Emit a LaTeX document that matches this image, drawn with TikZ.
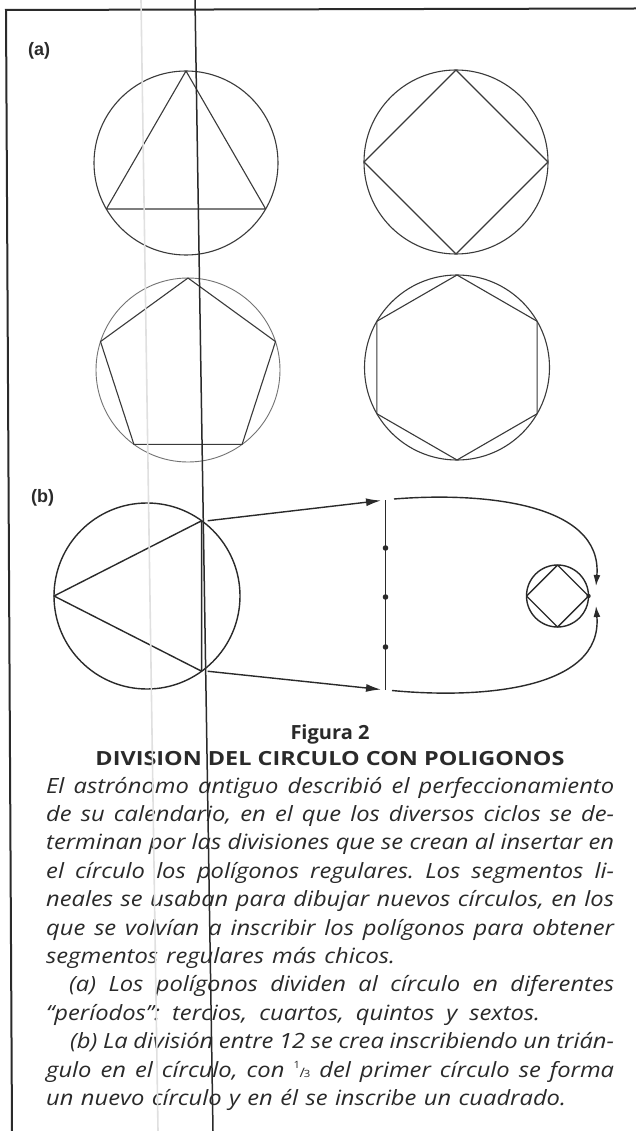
\documentclass[tikz,border=0pt]{standalone}
\usepackage{fontspec}
\usepackage{graphicx}
\usetikzlibrary{arrows.meta}
\newfontfamily\capfont[FakeStretch=1.13]{Open Sans}
\newfontfamily\headfont{Open Sans}
\newfontfamily\labfont{Liberation Sans}
\definecolor{ink}{HTML}{2A2A2A}
\definecolor{pen}{HTML}{3A3A3A}
\newcommand\jline[2]{\makebox[#1][s]{#2}}
\newcommand\third{\raisebox{0.42em}{\fontsize{10}{10}\selectfont\upshape 1}\kern-0.5pt{\fontsize{13}{13}\selectfont\upshape /}\kern-1pt{\fontsize{10}{10}\selectfont\upshape 3}}
\frenchspacing
\begin{document}
\begin{tikzpicture}[x=1pt,y=-1pt,
  ring/.style={circle, draw=pen, line width=1.1pt, minimum size=#1, inner sep=0pt, outer sep=0pt},
  geo/.style={draw=pen, line width=1.1pt, line join=round},
  bold/.style={draw=ink, line width=1.4pt, line join=round},
  arrA/.style={draw=ink, line width=1.4pt, -{Latex[length=15pt,width=8pt]}},
  arrB/.style={draw=ink, line width=1.4pt, -{Latex[length=11pt,width=7pt]}},
  txt/.style={inner sep=0pt, text=ink, font=\capfont\itshape\fontsize{21}{25}\selectfont, anchor=base west},
  head/.style={inner sep=0pt, text=ink, font=\headfont\bfseries\fontsize{19.5}{24}\selectfont, anchor=base},
  lab/.style={inner sep=0pt, text=ink, font=\labfont\bfseries\fontsize{18}{20}\selectfont, anchor=base west},
  fold/.style={draw=ink, line width=1.5pt},
  faint/.style={draw=black!12, line width=1.6pt},
  frame/.style={draw=ink, line width=2pt}]
\useasboundingbox (0,0) rectangle (636,1131);
\fill[white] (0,0) rectangle (636,1131);

% ---------- (a) ----------
\node[lab] (la) at (28,56) {(a)};
\node[ring=184pt] (A1) at (186,163) {};
\draw[geo] (A1.90) -- (A1.210) -- (A1.330) -- cycle;
\node[ring=184pt] (A2) at (456,162) {};
\draw[geo] (A2.90) -- (A2.180) -- (A2.270) -- (A2.0) -- cycle;
\node[ring=184pt, draw=black!55, line width=0.9pt] (A3) at (188,370) {};
\draw[geo] (A3.90) -- (A3.162) -- (A3.234) -- (A3.306) -- (A3.18) -- cycle;
\node[ring=185pt] (A4) at (457,367.5) {};
\draw[geo] (A4.90) -- (A4.150) -- (A4.210) -- (A4.270) -- (A4.330) -- (A4.30) -- cycle;

% ---------- (b) ----------
\node[lab] (lb) at (31,502) {(b)};
\node[ring=186pt, draw=ink, line width=1.4pt] (B1) at (147,596) {};
\draw[bold] (B1.180) -- (B1.54.5) -- (B1.-54.5) -- cycle;
\coordinate (vt) at (385.5,500);
\coordinate (vb) at (385.5,690);
\draw[bold] (vt) -- (vb);
\draw[arrA, shorten >=4.5pt] ([xshift=6pt]B1.54.5) -- (vt);
\draw[arrA, shorten >=4.5pt] ([xshift=6pt]B1.-54.5) -- (vb);
\foreach \yy/\nm in {548/d1,597/d2,647/d3} {
  \fill[ink] (385.5,\yy) coordinate (\nm) circle (2.8pt);
}
\node[ring=62pt, draw=ink, line width=1.4pt] (S) at (557.5,596) {};
\draw[bold] (S.90) -- (S.180) -- (S.270) -- (S.0) -- cycle;
\fill[ink] (S.0) circle (2.2pt);
\coordinate (ct) at (394,499);
\coordinate (ut) at (596,586);
\coordinate (cb) at (392,690.5);
\coordinate (lt) at (596,606);
\draw[arrB] (ct) .. controls (480,492) and (603,502) .. (ut);
\draw[arrB] (cb) .. controls (480,699) and (603,690) .. (lt);

% ---------- caption ----------
\node[head] (h1) at (330,739) {\resizebox{79pt}{\height}{Figura 2}};
\node[head] (h2) at (330,765) {\resizebox{469pt}{\height}{DIVISION DEL CIRCULO CON POLIGONOS}};
\node[txt] (t1) at (46,793) {\jline{568pt}{El astrónomo antiguo describió el perfeccionamiento}};
\node[txt] (t2) at (46,821.4) {\jline{568pt}{de su calendario, en el que los diversos ciclos se de-}};
\node[txt] (t3) at (46,849.8) {\jline{568pt}{terminan por las divisiones que se crean al insertar en}};
\node[txt] (t4) at (46,878.2) {\jline{568pt}{el círculo los polígonos regulares. Los segmentos li-}};
\node[txt] (t5) at (46,906.6) {\jline{568pt}{neales se usaban para dibujar nuevos círculos, en los}};
\node[txt] (t6) at (46,935) {\jline{568pt}{que se volvían a inscribir los polígonos para obtener}};
\node[txt] (t7) at (46,963.4) {\jline{349pt}{segmentos regulares más chicos.}};
\node[txt] (t8) at (69,991.8) {\jline{545pt}{(a) Los polígonos dividen al círculo en diferentes}};
\node[txt] (t9) at (46,1020.2) {\jline{494pt}{“períodos”: tercios, cuartos, quintos y sextos.}};
\node[txt] (t10) at (70,1048.6) {\jline{544pt}{(b) La división entre 12 se crea inscribiendo un trián-}};
\node[txt] (t11) at (46,1077) {\jline{568pt}{gulo en el círculo, con \third{} del primer círculo se forma}};
\node[txt] (t12) at (46,1105.4) {\jline{520pt}{un nuevo círculo y en él se inscribe un cuadrado.}};

% ---------- frame and scan lines ----------
\coordinate (fa) at (6,10);
\coordinate (fb) at (12,1131);
\coordinate (fc) at (636,8.5);
\draw[frame] (fb) -- (fa) -- (fc);
\coordinate (ga) at (141,0);
\coordinate (gb) at (158,1131);
\draw[faint] (ga) -- (gb);
\coordinate (ka) at (195,0);
\coordinate (kb) at (213,1131);
\draw[fold] (ka) -- (kb);
\end{tikzpicture}
\end{document}
